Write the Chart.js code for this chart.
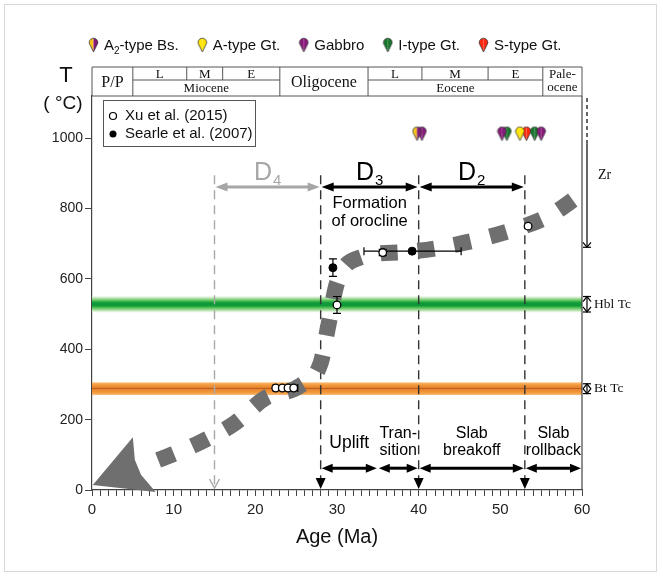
<!DOCTYPE html>
<html>
<head>
<meta charset="utf-8">
<script src="https://cdn.jsdelivr.net/npm/chart.js@4.4.1/dist/chart.umd.min.js"></script>
<style>
  html, body { margin: 0; padding: 0; background: #fff; }
  canvas { display: block; }
</style>
</head>
<body>
<canvas id="ptPath" width="662" height="577"></canvas>
<script>
// cooling path (age in Ma, temperature in °C)
const pathAge  = [8.1, 9.1, 13.3, 17.5, 21.2, 25.6, 28.0, 28.9, 30.0, 33.0, 37.9, 42.4, 51.5, 56.1, 59.7];
const pathTemp = [85, 94, 136, 190, 261, 298, 361, 463, 588, 662, 676, 688, 739, 781, 838];
// arrow head at the young end of the path
const pathHeadAge  = [0.1, 5.0, 5.25, 6.0, 7.8];
const pathHeadTemp = [14, 150, 85, 43, -6];

// thermochronology data
const xuAge      = [22.5, 23.3, 24.0, 24.7, 30.0, 35.6, 53.4];
const xuTemp     = [290, 290, 290, 290, 526, 675, 750];
const searleAge  = [29.5, 39.2];
const searleTemp = [632, 679];
// error bars: [age, tempLow, tempHigh] and [ageLow, ageHigh, temp]
const tempErrors = [[29.5, 607, 657], [30.0, 502, 550], [35.6, 666, 684]];
const ageErrors  = [[22.2, 25.2, 290], [33.3, 45.2, 679]];

// magmatic rocks (ages), drawn at the top of the plot
const pinTemp   = 1013;
const a2Ages    = [39.8];
const aGtAges   = [52.4];
const gabbroAges = [40.4, 50.2, 55.0];
const iGtAges   = [50.8, 54.2];
const sGtAges   = [53.2];

// closure temperature bands
const hblTc = 528, hblHalf = 26;
const btTc  = 288, btHalf  = 18;
const zrTop = 1114, zrDash = 986, zrBottom = 690;

// deformation phases and tectonic stages
const boundaryAge = [15, 28, 40, 53];
const boundaryTop = 895;
const dSub  = ['4', '3', '2'];
const dFrom = [15, 28, 40];
const dTo   = [28, 40, 53];
const dTemp = 861;
const stageText = [['Uplift'], ['Tran-', 'sition'], ['Slab', 'breakoff'], ['Slab', 'rollback']];
const stageFrom = [28, 35, 40, 53];
const stageTo   = [35, 40, 53, 60];
const stageTemp = 62;

// geological time scale header
const epochBounds = [5.0, 23.0, 33.8, 55.2];
const mioSub = [11.6, 16.0];
const eoSub  = [40.4, 48.5];

const xTickStep = 10;
const yTicks = [0, 200, 400, 600, 800, 1000];

const SANS  = '"Liberation Sans", Arial, sans-serif';
const SERIF = '"Liberation Serif", "Times New Roman", serif';

const COLORS = {
  yellow: '#ffe400',
  purple: '#87197a',
  green:  '#17762c',
  red:    '#ff2a12',
  a2left: '#f6c21c'
};

function makePin(left, right) {
  const c = document.createElement('canvas');
  c.width = 11; c.height = 16;
  const g = c.getContext('2d');
  const shape = () => {
    g.beginPath();
    g.arc(5.5, 5.5, 4.3, Math.PI * 0.78, Math.PI * 0.22, false);
    g.lineTo(5.5, 15);
    g.closePath();
  };
  g.save();
  shape();
  g.clip();
  g.fillStyle = left;
  g.fillRect(0, 0, 5.5, 16);
  g.fillStyle = right;
  g.fillRect(5.5, 0, 6, 16);
  g.restore();
  shape();
  g.strokeStyle = '#3a3a3a';
  g.lineWidth = 0.8;
  g.stroke();
  return c;
}

const pins = {
  a2: makePin(COLORS.a2left, COLORS.purple),
  aGt: makePin(COLORS.yellow, COLORS.yellow),
  gabbro: makePin(COLORS.purple, COLORS.purple),
  iGt: makePin(COLORS.green, COLORS.green),
  sGt: makePin(COLORS.red, COLORS.red)
};

const toPts = (xs, ys) => xs.map((v, i) => ({ x: v, y: Array.isArray(ys) ? ys[i] : ys }));

function text(ctx, str, x, y, font, color, align, base) {
  ctx.font = font;
  ctx.fillStyle = color || '#000';
  ctx.textAlign = align || 'center';
  ctx.textBaseline = base || 'middle';
  ctx.fillText(str, x, y);
}

function doubleArrow(ctx, x0, x1, yy, color, lw, hl, hw) {
  ctx.strokeStyle = color;
  ctx.fillStyle = color;
  ctx.lineWidth = lw;
  ctx.setLineDash([]);
  ctx.beginPath();
  ctx.moveTo(x0 + hl - 1, yy);
  ctx.lineTo(x1 - hl + 1, yy);
  ctx.stroke();
  ctx.beginPath();
  ctx.moveTo(x0, yy); ctx.lineTo(x0 + hl, yy - hw); ctx.lineTo(x0 + hl, yy + hw); ctx.closePath();
  ctx.fill();
  ctx.beginPath();
  ctx.moveTo(x1, yy); ctx.lineTo(x1 - hl, yy - hw); ctx.lineTo(x1 - hl, yy + hw); ctx.closePath();
  ctx.fill();
}

function vArrow(ctx, xx, y0, y1, both) {
  // thin vertical arrow, head at y1 (and y0 when both)
  ctx.strokeStyle = '#000';
  ctx.lineWidth = 1.2;
  ctx.beginPath();
  ctx.moveTo(xx, y0); ctx.lineTo(xx, y1);
  ctx.stroke();
  const head = (yy, d) => {
    ctx.beginPath();
    ctx.moveTo(xx - 4, yy - 5 * d); ctx.lineTo(xx, yy); ctx.lineTo(xx + 4, yy - 5 * d);
    ctx.stroke();
    ctx.beginPath();
    ctx.moveTo(xx - 4, yy); ctx.lineTo(xx + 4, yy);
    ctx.stroke();
  };
  head(y1, 1);
  if (both) head(y0, -1);
}

function band(ctx, a, ys, center, half, stops) {
  const top = ys.getPixelForValue(center + half);
  const bot = ys.getPixelForValue(center - half);
  const g = ctx.createLinearGradient(0, top, 0, bot);
  stops.forEach(s => g.addColorStop(s[0], s[1]));
  ctx.fillStyle = g;
  ctx.fillRect(a.left, top, a.right - a.left, bot - top);
}

const figurePlugin = {
  id: 'figure',
  beforeDatasetsDraw(chart) {
    const { ctx, chartArea: a, scales: { x, y } } = chart;
    ctx.save();

    band(ctx, a, y, hblTc, hblHalf, [
      [0, 'rgba(255,255,255,0)'], [0.12, '#d3eecb'], [0.3, '#5cc25a'],
      [0.42, '#0f9a3a'], [0.58, '#0f9a3a'], [0.7, '#5cc25a'],
      [0.88, '#d3eecb'], [1, 'rgba(255,255,255,0)']
    ]);
    band(ctx, a, y, btTc, btHalf, [
      [0, '#f8bd78'], [0.2, '#f39a3c'], [0.4, '#e8852e'],
      [0.48, '#b65e22'], [0.56, '#e8852e'], [0.8, '#f39a3c'], [1, '#f8bd78']
    ]);

    // boundaries between deformation phases
    boundaryAge.forEach((age, i) => {
      const xx = x.getPixelForValue(age);
      const col = i === 0 ? '#a8a8a8' : '#333';
      ctx.strokeStyle = col;
      ctx.lineWidth = 1.4;
      ctx.setLineDash([9, 6]);
      ctx.beginPath();
      ctx.moveTo(xx, y.getPixelForValue(boundaryTop));
      ctx.lineTo(xx, a.bottom - 3);
      ctx.stroke();
      ctx.setLineDash([]);
      if (i === 0) {
        ctx.beginPath();
        ctx.moveTo(xx - 5, a.bottom - 11); ctx.lineTo(xx, a.bottom - 2); ctx.lineTo(xx + 5, a.bottom - 11);
        ctx.stroke();
      } else {
        ctx.fillStyle = '#000';
        ctx.beginPath();
        ctx.moveTo(xx - 5, a.bottom - 12); ctx.lineTo(xx + 5, a.bottom - 12); ctx.lineTo(xx, a.bottom - 1);
        ctx.closePath();
        ctx.fill();
      }
    });

    // deformation phase arrows
    const dy = y.getPixelForValue(dTemp);
    dFrom.forEach((f, i) => {
      const col = i === 0 ? '#a6a6a6' : '#000';
      const x0 = x.getPixelForValue(f) + 1, x1 = x.getPixelForValue(dTo[i]) - 1;
      doubleArrow(ctx, x0, x1, dy, col, 3, 12, 4.5);
      const mid = (x0 + x1) / 2;
      ctx.font = '25px ' + SANS;
      const wD = ctx.measureText('D').width;
      ctx.font = '15px ' + SANS;
      const wS = ctx.measureText(dSub[i]).width;
      const sx = mid - (wD + wS + 1) / 2;
      text(ctx, 'D', sx, dy - 7, '25px ' + SANS, col, 'left', 'alphabetic');
      text(ctx, dSub[i], sx + wD + 1, dy - 2, '15px ' + SANS, col, 'left', 'alphabetic');
    });
    const orocX = x.getPixelForValue(34);
    text(ctx, 'Formation', orocX, dy + 16, '16.5px ' + SANS, '#000');
    text(ctx, 'of orocline', orocX, dy + 34, '16.5px ' + SANS, '#000');

    // tectonic stage arrows
    const sy = y.getPixelForValue(stageTemp);
    stageFrom.forEach((f, i) => {
      const x0 = x.getPixelForValue(f) + 1, x1 = x.getPixelForValue(stageTo[i]) - 1;
      doubleArrow(ctx, x0, x1, sy, '#000', 3, 11, 4.5);
      const mid = (x0 + x1) / 2;
      const lines = stageText[i];
      if (lines.length === 1) {
        text(ctx, lines[0], mid, sy - 25, '17.5px ' + SANS, '#000');
      } else {
        text(ctx, lines[0], mid, sy - 35, '16px ' + SANS, '#000');
        text(ctx, lines[1], mid, sy - 18, '16px ' + SANS, '#000');
      }
    });

    // arrow head of the cooling path
    ctx.fillStyle = '#6f6f6f';
    ctx.beginPath();
    pathHeadAge.forEach((age, i) => {
      const px = x.getPixelForValue(age), py = y.getPixelForValue(pathHeadTemp[i]);
      if (i === 0) ctx.moveTo(px, py); else ctx.lineTo(px, py);
    });
    ctx.closePath();
    ctx.fill();

    ctx.restore();
  },

  beforeDatasetDraw(chart, args) {
    if (args.index !== 6) return;
    const { ctx, scales: { x, y } } = chart;
    ctx.save();
    ctx.strokeStyle = '#000';
    ctx.lineWidth = 1.2;
    tempErrors.forEach(([age, lo, hi]) => {
      const xx = x.getPixelForValue(age);
      const y0 = y.getPixelForValue(lo), y1 = y.getPixelForValue(hi);
      ctx.beginPath();
      ctx.moveTo(xx, y0); ctx.lineTo(xx, y1);
      ctx.moveTo(xx - 4, y0); ctx.lineTo(xx + 4, y0);
      ctx.moveTo(xx - 4, y1); ctx.lineTo(xx + 4, y1);
      ctx.stroke();
    });
    ageErrors.forEach(([lo, hi, temp]) => {
      const yy = y.getPixelForValue(temp);
      const x0 = x.getPixelForValue(lo), x1 = x.getPixelForValue(hi);
      ctx.beginPath();
      ctx.moveTo(x0, yy); ctx.lineTo(x1, yy);
      ctx.moveTo(x0, yy - 4); ctx.lineTo(x0, yy + 4);
      ctx.moveTo(x1, yy - 4); ctx.lineTo(x1, yy + 4);
      ctx.stroke();
    });
    ctx.restore();
  },

  afterDraw(chart) {
    const { ctx, chartArea: a, scales: { x, y } } = chart;
    ctx.save();

    // figure frame
    ctx.strokeStyle = '#d8d8d8';
    ctx.lineWidth = 1;
    ctx.strokeRect(4.5, 4.5, 652, 567);

    // right border of plot
    ctx.strokeStyle = '#444';
    ctx.lineWidth = 1.2;
    ctx.beginPath();
    ctx.moveTo(a.right, a.top); ctx.lineTo(a.right, a.bottom);
    ctx.stroke();

    // time scale header
    const hTop = 67, hMid = 80, hBot = a.top;
    const X = v => x.getPixelForValue(v);
    ctx.strokeStyle = '#555';
    ctx.lineWidth = 1;
    ctx.beginPath();
    ctx.rect(X(0), hTop, X(60) - X(0), hBot - hTop);
    epochBounds.forEach(b => { ctx.moveTo(X(b), hTop); ctx.lineTo(X(b), hBot); });
    mioSub.concat(eoSub).forEach(b => { ctx.moveTo(X(b), hTop); ctx.lineTo(X(b), hMid); });
    ctx.moveTo(X(epochBounds[0]), hMid); ctx.lineTo(X(epochBounds[1]), hMid);
    ctx.moveTo(X(epochBounds[2]), hMid); ctx.lineTo(X(epochBounds[3]), hMid);
    ctx.stroke();
    const r1 = (hTop + hMid) / 2 + 1, r2 = (hMid + hBot) / 2 + 1, rc = (hTop + hBot) / 2 + 1;
    const f13 = '13px ' + SERIF, f16 = '16px ' + SERIF;
    text(ctx, 'P/P', X(epochBounds[0] / 2), rc, f16, '#111');
    const mio = [epochBounds[0], mioSub[0], mioSub[1], epochBounds[1]];
    ['L', 'M', 'E'].forEach((s, i) => text(ctx, s, X((mio[i] + mio[i + 1]) / 2), r1, f13, '#111'));
    text(ctx, 'Miocene', X((epochBounds[0] + epochBounds[1]) / 2), r2, f13, '#111');
    text(ctx, 'Oligocene', X((epochBounds[1] + epochBounds[2]) / 2), rc, f16, '#111');
    const eo = [epochBounds[2], eoSub[0], eoSub[1], epochBounds[3]];
    ['L', 'M', 'E'].forEach((s, i) => text(ctx, s, X((eo[i] + eo[i + 1]) / 2), r1, f13, '#111'));
    text(ctx, 'Eocene', X((epochBounds[2] + epochBounds[3]) / 2), r2, f13, '#111');
    text(ctx, 'Pale-', X((epochBounds[3] + 60) / 2), r1, f13, '#111');
    text(ctx, 'ocene', X((epochBounds[3] + 60) / 2), r2 - 1, f13, '#111');

    // top legend of rock types
    const items = [
      [pins.a2, ['A', '2', '-type Bs.']],
      [pins.aGt, ['A-type Gt.']],
      [pins.gabbro, ['Gabbro']],
      [pins.iGt, ['I-type Gt.']],
      [pins.sGt, ['S-type Gt.']]
    ];
    const legFont = '15px ' + SANS, subFont = '10px ' + SANS;
    let lx = 88;
    const ly = 46;
    items.forEach(([img, parts]) => {
      ctx.drawImage(img, lx, ly - 9);
      let tx = lx + 16;
      if (parts.length === 3) {
        text(ctx, parts[0], tx, ly, legFont, '#111', 'left');
        ctx.font = legFont; tx += ctx.measureText(parts[0]).width;
        text(ctx, parts[1], tx, ly + 5, subFont, '#111', 'left');
        ctx.font = subFont; tx += ctx.measureText(parts[1]).width;
        text(ctx, parts[2], tx, ly, legFont, '#111', 'left');
        ctx.font = legFont; tx += ctx.measureText(parts[2]).width;
      } else {
        text(ctx, parts[0], tx, ly, legFont, '#111', 'left');
        ctx.font = legFont; tx += ctx.measureText(parts[0]).width;
      }
      lx = tx + 18;
    });

    // inset legend of data sources
    ctx.strokeStyle = '#555';
    ctx.lineWidth = 1;
    ctx.strokeRect(103.5, 100.5, 152, 46);
    ctx.beginPath();
    ctx.arc(113, 116, 3.5, 0, Math.PI * 2);
    ctx.fillStyle = '#fff'; ctx.fill();
    ctx.strokeStyle = '#000'; ctx.lineWidth = 1.2; ctx.stroke();
    ctx.beginPath();
    ctx.arc(113, 134, 3.5, 0, Math.PI * 2);
    ctx.fillStyle = '#000'; ctx.fill();
    text(ctx, 'Xu et al. (2015)', 125, 116, '15px ' + SANS, '#111', 'left');
    text(ctx, 'Searle et al. (2007)', 125, 134, '15px ' + SANS, '#111', 'left');

    // axis titles
    text(ctx, 'T', 66, 76, '22px ' + SANS, '#111');
    text(ctx, '( °C)', 63, 104, '19px ' + SANS, '#111');
    text(ctx, 'Age (Ma)', (a.left + a.right) / 2, 537, '20px ' + SANS, '#111');

    // closure temperatures on the right
    const rx = a.right + 5;
    ctx.strokeStyle = '#000';
    ctx.lineWidth = 1.2;
    ctx.setLineDash([4, 3]);
    ctx.beginPath();
    ctx.moveTo(rx, y.getPixelForValue(zrTop)); ctx.lineTo(rx, y.getPixelForValue(zrDash));
    ctx.stroke();
    ctx.setLineDash([]);
    vArrow(ctx, rx, y.getPixelForValue(zrDash), y.getPixelForValue(zrBottom), false);
    text(ctx, 'Zr', rx + 11, y.getPixelForValue(boundaryTop), '14px ' + SERIF, '#111', 'left');
    vArrow(ctx, rx, y.getPixelForValue(hblTc + 22), y.getPixelForValue(hblTc - 22), true);
    text(ctx, 'Hbl Tc', rx + 7, y.getPixelForValue(hblTc), '13.5px ' + SERIF, '#111', 'left');
    vArrow(ctx, rx, y.getPixelForValue(btTc + 14), y.getPixelForValue(btTc - 14), true);
    text(ctx, 'Bt Tc', rx + 7, y.getPixelForValue(btTc), '13.5px ' + SERIF, '#111', 'left');

    ctx.restore();
  }
};

const pinSet = (data, img) => ({
  type: 'scatter',
  data: toPts(data, pinTemp),
  pointStyle: img,
  pointRadius: 6,
  clip: false
});

new Chart(document.getElementById('ptPath'), {
  type: 'scatter',
  data: {
    datasets: [
      pinSet(a2Ages, pins.a2),
      pinSet(gabbroAges, pins.gabbro),
      pinSet(iGtAges, pins.iGt),
      pinSet(aGtAges, pins.aGt),
      pinSet(sGtAges, pins.sGt),
      {
        label: 'Xu et al. (2015)',
        data: toPts(xuAge, xuTemp),
        pointRadius: 3.8,
        pointBackgroundColor: '#fff',
        pointBorderColor: '#000',
        pointBorderWidth: 1.3
      },
      {
        label: 'Searle et al. (2007)',
        data: toPts(searleAge, searleTemp),
        pointRadius: 4,
        pointBackgroundColor: '#000',
        pointBorderColor: '#000',
        pointBorderWidth: 1
      },
      {
        type: 'line',
        data: toPts(pathAge, pathTemp),
        borderColor: '#6f6f6f',
        borderWidth: 16,
        borderDash: [17, 20],
        pointRadius: 0,
        cubicInterpolationMode: 'monotone',
        fill: false
      }
    ]
  },
  options: {
    responsive: false,
    animation: false,
    layout: { padding: { top: 96, right: 80, bottom: 0, left: 0 } },
    plugins: { legend: { display: false }, tooltip: { enabled: false } },
    scales: {
      x: {
        type: 'linear',
        min: 0,
        max: 60,
        afterFit: s => { s.height = 87; },
        ticks: {
          stepSize: 1,
          autoSkip: false,
          maxRotation: 0,
          padding: 5,
          color: '#222',
          font: { family: SANS, size: 15 },
          callback: v => (v % xTickStep === 0 ? String(v) : '')
        },
        grid: { drawOnChartArea: false, tickLength: 6, color: '#444' },
        border: { color: '#444', width: 1.2 }
      },
      y: {
        min: 0,
        max: 1120,
        afterFit: s => { s.width = 92; },
        afterBuildTicks: s => { s.ticks = yTicks.map(v => ({ value: v })); },
        ticks: {
          padding: 2,
          color: '#222',
          font: { family: SANS, size: 14 },
          callback: v => String(v)
        },
        grid: { drawOnChartArea: false, tickLength: 7, color: '#444' },
        border: { color: '#444', width: 1.2 }
      }
    }
  },
  plugins: [figurePlugin]
});
</script>
</body>
</html>
